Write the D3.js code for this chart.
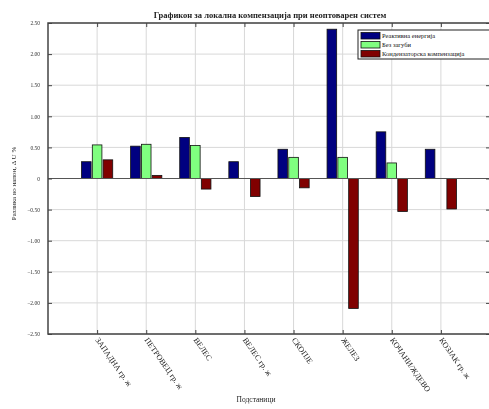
<!DOCTYPE html>
<html>
<head>
<meta charset="utf-8">
<script src="https://cdn.jsdelivr.net/npm/d3@7"></script>
<style>
  html, body { margin: 0; padding: 0; background: #fff; }
  svg { display: block; filter: blur(0.35px); }
</style>
</head>
<body>
<svg id="chart" width="489" height="409"></svg>
<script>

var categories = ['ЗАПАДНА гр. ж', 'ПЕТРОВЕЦ гр. ж', 'ВЕЛЕС', 'ВЕЛЕС гр. ж', 'СКОПЈЕ', 'ЖЕЛЕЗ', 'КОЧАНИ/ЖДЕВО', 'КОЗЈАК гр. ж'];
var series_names = ['Реактивна енергија', 'Без загуби', 'Кондензаторска компензација'];
var blue_values = [0.27, 0.52, 0.66, 0.27, 0.47, 2.40, 0.75, 0.47];
var green_values = [0.54, 0.55, 0.53, 0.00, 0.34, 0.34, 0.25, 0.00];
var red_values = [0.30, 0.05, -0.17, -0.29, -0.15, -2.09, -0.53, -0.49];
var y_ticks = [2.5, 2.0, 1.5, 1.0, 0.5, 0, -0.5, -1.0, -1.5, -2.0, -2.5];
var colors = ['#000080', '#80ff80', '#800000'];

var svg = d3.select('#chart');
var margin = {top: 23, right: -1, bottom: 75, left: 48};
var width = 489 - margin.left - margin.right;
var height = 409 - margin.top - margin.bottom;

var g = svg.append('g')
    .attr('transform', 'translate(' + margin.left + ',' + margin.top + ')');

var x = d3.scaleLinear().domain([0, categories.length + 1]).range([0, width]);
var y = d3.scaleLinear().domain([-2.5, 2.5]).range([height, 0]);

// grid
g.append('g').selectAll('line.hgrid')
    .data(y_ticks)
    .enter().append('line')
    .attr('x1', 0).attr('x2', width)
    .attr('y1', function(d) { return y(d); })
    .attr('y2', function(d) { return y(d); })
    .attr('stroke', '#d8d8d8').attr('stroke-width', 1);

g.append('g').selectAll('line.vgrid')
    .data(categories)
    .enter().append('line')
    .attr('x1', function(d, i) { return x(i + 1); })
    .attr('x2', function(d, i) { return x(i + 1); })
    .attr('y1', 0).attr('y2', height)
    .attr('stroke', '#d8d8d8').attr('stroke-width', 1);

// bars
var all_series = [blue_values, green_values, red_values];
var group_w = 0.66;
var bar_w = group_w / 3;

all_series.forEach(function(vals, s) {
    g.append('g').selectAll('rect')
        .data(vals)
        .enter().append('rect')
        .attr('x', function(d, i) { return x(i + 1 - group_w / 2 + s * bar_w) + 0.6; })
        .attr('width', function() { return x(bar_w) - x(0) - 1.2; })
        .attr('y', function(d) { return y(Math.max(0, d)); })
        .attr('height', function(d) { return Math.abs(y(d) - y(0)); })
        .attr('fill', colors[s])
        .attr('stroke', '#111').attr('stroke-width', 0.8);
});

// zero line
g.append('line')
    .attr('x1', 0).attr('x2', width)
    .attr('y1', y(0)).attr('y2', y(0))
    .attr('stroke', '#555').attr('stroke-width', 1.2);

// axes
var yAxis = d3.axisLeft(y).tickValues(y_ticks).tickSize(-4).tickPadding(8)
    .tickFormat(function(d) { return d === 0 ? '0' : d3.format('.2f')(d); });
var ya = g.append('g').call(yAxis);
ya.select('.domain').remove();
ya.selectAll('text').attr('font-family', 'Liberation Serif').attr('font-size', 5.5).attr('fill', '#333');
ya.selectAll('line').attr('stroke', '#444');

var yAxisR = d3.axisRight(y).tickValues(y_ticks).tickSize(-4).tickFormat('');
var yr = g.append('g').attr('transform', 'translate(' + width + ',0)').call(yAxisR);
yr.select('.domain').remove();
yr.selectAll('line').attr('stroke', '#444');

var xAxis = d3.axisBottom(x).tickValues(d3.range(1, categories.length + 1)).tickSize(-4).tickFormat('');
var xa = g.append('g').attr('transform', 'translate(0,' + height + ')').call(xAxis);
xa.select('.domain').remove();
xa.selectAll('line').attr('stroke', '#444');

var xAxisT = d3.axisTop(x).tickValues(d3.range(1, categories.length + 1)).tickSize(-4).tickFormat('');
var xt = g.append('g').call(xAxisT);
xt.select('.domain').remove();
xt.selectAll('line').attr('stroke', '#444');

// box
g.append('rect')
    .attr('x', 0).attr('y', 0).attr('width', width).attr('height', height)
    .attr('fill', 'none').attr('stroke', '#444').attr('stroke-width', 1.5);

// x labels rotated
g.append('g').selectAll('text.xl')
    .data(categories)
    .enter().append('text')
    .attr('transform', function(d, i) { return 'translate(' + (x(i + 1) - 2) + ',' + (height + 6) + ') rotate(55)'; })
    .attr('font-family', 'Liberation Serif').attr('font-size', 8).attr('fill', '#222')
    .text(function(d) { return d; });

// title
svg.append('text')
    .attr('x', 270).attr('y', 18)
    .attr('text-anchor', 'middle')
    .attr('font-family', 'Liberation Serif').attr('font-weight', 'bold').attr('font-size', 8.5)
    .attr('fill', '#222')
    .text('Графикон за локална компензација при неоптоварен систем');

// x title
svg.append('text')
    .attr('x', 256).attr('y', 402)
    .attr('text-anchor', 'middle')
    .attr('font-family', 'Liberation Serif').attr('font-size', 7.5).attr('fill', '#222')
    .text('Подстаници');

// y title
svg.append('text')
    .attr('transform', 'translate(16,' + (margin.top + y(0) + 5) + ') rotate(-90)')
    .attr('text-anchor', 'middle')
    .attr('font-family', 'Liberation Serif').attr('font-size', 7).attr('fill', '#222')
    .text('Разлика во напон, Δ U %');

// legend
var lg = svg.append('g').attr('transform', 'translate(358,30)');
lg.append('rect').attr('x', 0).attr('y', 0).attr('width', 132).attr('height', 29)
    .attr('fill', '#fff').attr('stroke', '#222').attr('stroke-width', 1);
series_names.forEach(function(name, i) {
    lg.append('rect')
        .attr('x', 3).attr('y', 2.5 + i * 9).attr('width', 19).attr('height', 6.5)
        .attr('fill', colors[i]).attr('stroke', '#111').attr('stroke-width', 0.8);
    lg.append('text')
        .attr('x', 24).attr('y', 8.2 + i * 9)
        .attr('font-family', 'Liberation Serif').attr('font-size', 6.5).attr('fill', '#111')
        .text(name);
});

</script>
</body>
</html>
